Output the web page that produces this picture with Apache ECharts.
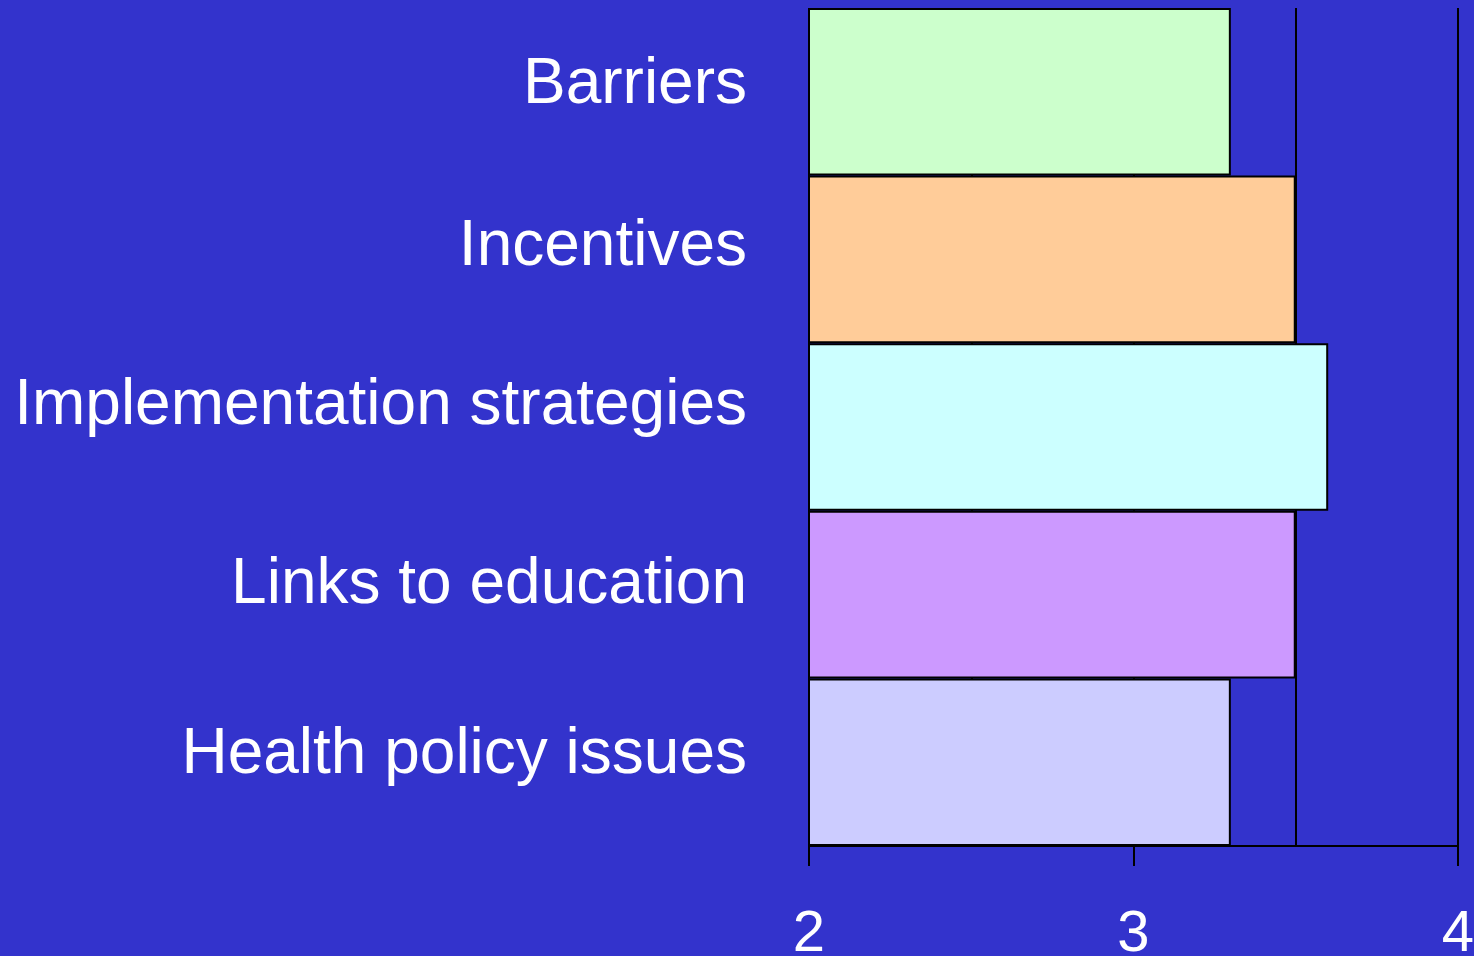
<!DOCTYPE html>
<html>
<head>
<meta charset="utf-8">
<title>Ratings</title>
<script src="https://cdn.jsdelivr.net/npm/echarts@6/dist/echarts.min.js"></script>
<style>
  html, body { margin: 0; padding: 0; background: #3333cc; }
  #chart { width: 1474px; height: 956px; }
</style>
</head>
<body>
<div id="chart"></div>
<script>
// categories top to bottom
const categories = ['Barriers', 'Incentives', 'Implementation strategies', 'Links to education', 'Health policy issues']
const scores = [3.3, 3.5, 3.6, 3.5, 3.3]
const tickLabels = [2, 3, 4]

const barColors = ['#ccffcc', '#ffcc99', '#ccffff', '#cc99ff', '#ccccff']
// labels in the original sit a bit above the middle of each band
const labelLift = [12, 24, 42, 18, 14]

const chart = echarts.init(document.getElementById('chart'))

const rich = {}
labelLift.forEach((p, i) => {
  rich['l' + i] = {
    color: '#fff',
    fontSize: 64,
    fontFamily: '"Liberation Sans", Arial, sans-serif',
    padding: [0, 0, p, 0]
  }
})

chart.setOption({
  backgroundColor: '#3333cc',
  animation: false,
  textStyle: { fontFamily: '"Liberation Sans", Arial, sans-serif' },
  grid: {
    left: 809,
    right: 16,
    top: 8,
    bottom: 110,
    containLabel: false,
    outerBoundsMode: 'none'
  },
  xAxis: {
    type: 'value',
    min: 2,
    max: 4,
    interval: 1,
    minorTick: { show: false, splitNumber: 2 },
    minorSplitLine: { show: true, lineStyle: { color: '#000', width: 2 } },
    axisLine: { show: true, lineStyle: { color: '#000', width: 2 } },
    axisTick: { show: true, length: 20, lineStyle: { color: '#000', width: 2 } },
    axisLabel: {
      color: '#fff',
      fontSize: 58,
      margin: 60,
      fontFamily: '"Liberation Sans", Arial, sans-serif'
    },
    splitLine: { show: true, lineStyle: { color: '#000', width: 2 } }
  },
  yAxis: {
    type: 'category',
    inverse: true,
    data: categories,
    axisLine: { show: false },
    axisTick: { show: false },
    axisLabel: {
      margin: 62,
      formatter: (v, i) => '{l' + i + '|' + v + '}',
      rich: rich
    }
  },
  series: [{
    type: 'bar',
    barCategoryGap: '0%',
    data: scores.map((v, i) => ({
      value: v,
      itemStyle: { color: barColors[i] }
    })),
    itemStyle: { borderColor: '#000', borderWidth: 2 }
  }]
})
</script>
</body>
</html>
